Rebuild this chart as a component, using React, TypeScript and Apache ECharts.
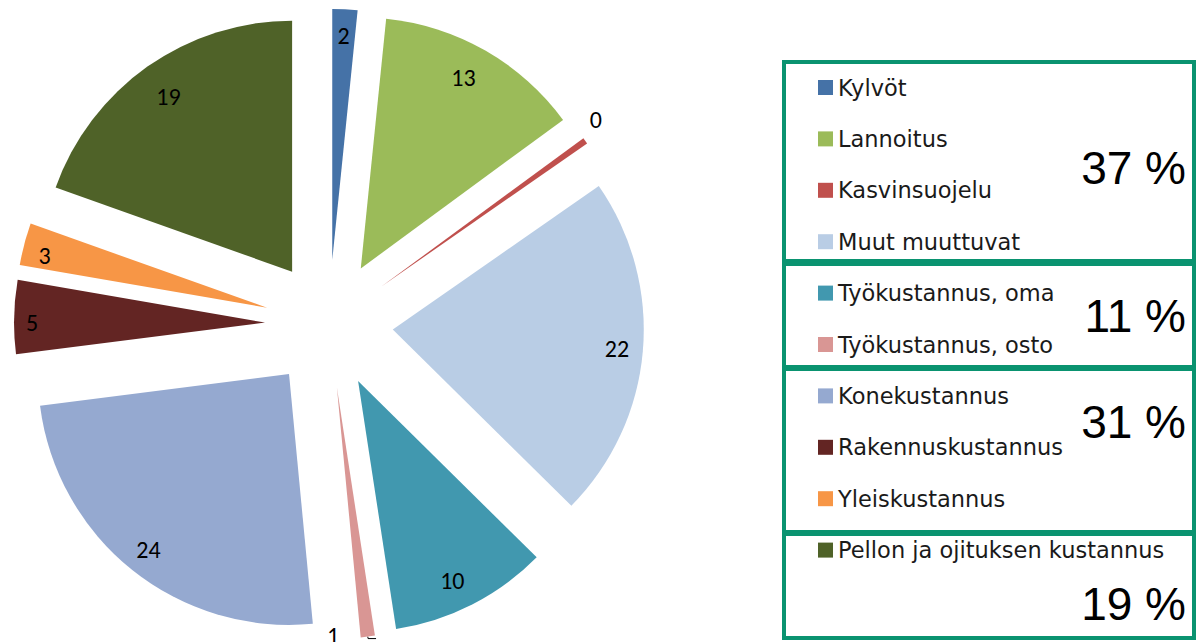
import React, { useEffect, useRef } from "react";
import * as echarts from "echarts";

const categories = [
  "Kylvöt",
  "Lannoitus",
  "Kasvinsuojelu",
  "Muut muuttuvat",
  "Työkustannus, oma",
  "Työkustannus, osto",
  "Konekustannus",
  "Rakennuskustannus",
  "Yleiskustannus",
  "Pellon ja ojituksen kustannus",
];
const values = [1.6, 13.2, 0.4, 21.9, 10.1, 0.9, 24.3, 4.7, 2.7, 19.4];
const colors = [
  "#4572A7",
  "#9BBB59",
  "#C0504D",
  "#B9CDE5",
  "#4198AF",
  "#D99694",
  "#95A9D0",
  "#632523",
  "#F79646",
  "#4F6228",
];
const groupLabels = ["37 %", "11 %", "31 %", "19 %"];

const CX = 329;
const CY = 324;
const R = 251;
const OFFSET = 64;
const LABEL_FONT = "Carlito, Lato, sans-serif";

// small nudges of the in-slice value labels (Excel "best fit" placement)
const labelNudge: Record<number, [number, number]> = {
  1: [-9, 4],
  4: [-8, -1],
  7: [-8, 5],
  8: [-5, 5],
  9: [6, 9],
};

export default function App() {
  const ref = useRef<HTMLDivElement>(null);
  useEffect(() => {
    document.body.style.margin = "0";
    const chart = echarts.init(ref.current!, undefined, { renderer: "svg" });
    const round = (p: any) => String(Math.round(p.value));

    const mainData = categories.map((name, i) => ({
      name,
      value: values[i],
      selected: true,
      itemStyle: { color: colors[i] },
      label:
        i === 5
          ? {
              show: true,
              position: "outside",
              formatter: round,
              color: "#000",
              fontSize: 24,
              fontFamily: LABEL_FONT,
            }
          : { show: false },
      labelLine:
        i === 5
          ? { show: true, length: 2, length2: 8, lineStyle: { color: "#000", width: 1 } }
          : { show: false },
    }));

    const ringData = categories.map((name, i) => ({
      name,
      value: values[i],
      selected: true,
      label: { show: i !== 2 && i !== 5 },
    }));

    const outerData = categories.map((name, i) => ({
      name,
      value: values[i],
      selected: true,
      label: { show: i === 2 },
    }));

    const boxes = [
      [784, 62, 410, 199],
      [784, 264, 410, 103],
      [784, 369, 410, 163],
      [784, 534, 410, 104],
    ];
    const pctPos = [
      [1186, 168],
      [1186, 316],
      [1186, 422],
      [1186, 604],
    ];

    chart.setOption({
      animation: false,
      legend: {
        orient: "vertical",
        left: 813,
        top: 71,
        itemWidth: 15,
        itemHeight: 15,
        itemGap: 28.4,
        icon: "rect",
        selectedMode: false,
        data: categories,
        textStyle: { fontSize: 22.5, color: "#1a1a1a", fontFamily: "'DejaVu Sans', sans-serif" },
      },
      graphic: [
        ...boxes.map((b) => ({
          type: "rect",
          shape: { x: b[0], y: b[1], width: b[2], height: b[3] },
          style: { fill: "none", stroke: "#0A9370", lineWidth: 4 },
          silent: true,
        })),
        ...groupLabels.map((t, i) => ({
          type: "text",
          x: pctPos[i][0],
          y: pctPos[i][1],
          style: {
            text: t,
            fill: "#000",
            font: '46px "Liberation Sans", Arial, sans-serif',
            textAlign: "right",
            textVerticalAlign: "middle",
          },
          silent: true,
        })),
      ],
      series: [
        {
          type: "pie",
          center: [CX, CY],
          radius: [0, R],
          startAngle: 90,
          clockwise: true,
          selectedMode: "multiple",
          selectedOffset: OFFSET,
          avoidLabelOverlap: false,
          emphasis: { disabled: true },
          select: { itemStyle: { borderWidth: 0 } },
          labelLayout: (p: any) => (p.dataIndex === 5 ? { dx: -54, dy: -3 } : {}),
          data: mainData,
        },
        {
          type: "pie",
          center: [CX, CY],
          radius: [193, R],
          startAngle: 90,
          clockwise: true,
          selectedMode: "multiple",
          selectedOffset: OFFSET,
          silent: true,
          emphasis: { disabled: true },
          itemStyle: { color: "transparent" },
          label: {
            position: "inside",
            formatter: round,
            color: "#000",
            fontSize: 24,
            fontFamily: LABEL_FONT,
            textBorderWidth: 0,
          },
          labelLine: { show: false },
          labelLayout: (p: any) => {
            const n = labelNudge[p.dataIndex];
            return n ? { dx: n[0], dy: n[1] } : {};
          },
          data: ringData,
        },
        {
          type: "pie",
          center: [CX, CY],
          radius: [260, 282],
          startAngle: 90,
          clockwise: true,
          selectedMode: "multiple",
          selectedOffset: OFFSET,
          silent: true,
          emphasis: { disabled: true },
          itemStyle: { color: "transparent" },
          label: {
            position: "inside",
            formatter: round,
            color: "#000",
            fontSize: 24,
            fontFamily: LABEL_FONT,
            textBorderWidth: 0,
          },
          labelLine: { show: false },
          labelLayout: (p: any) => (p.dataIndex === 2 ? { dx: -8, dy: -8 } : {}),
          data: outerData,
        },
      ],
    });
    return () => chart.dispose();
  }, []);
  return <div ref={ref} style={{ width: 1196, height: 642 }} />;
}
